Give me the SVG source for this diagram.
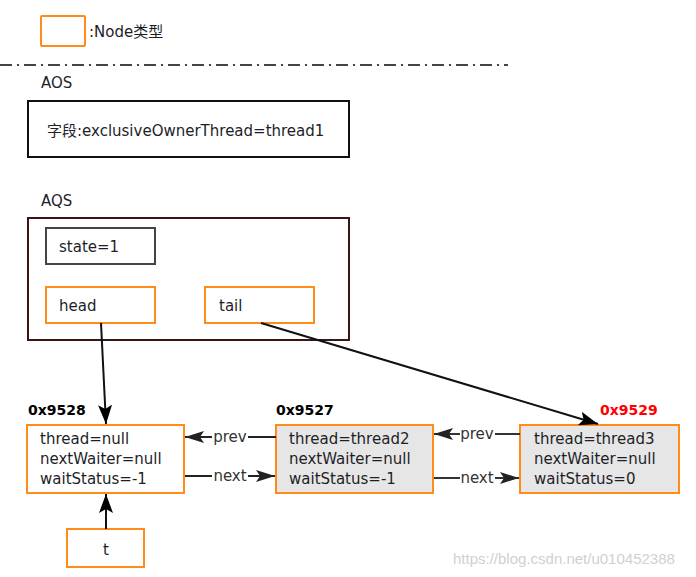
<svg xmlns="http://www.w3.org/2000/svg" width="696" height="577" viewBox="0 0 696 577">
<defs>
<style>
text{font-family:"DejaVu Sans","Noto Sans CJK SC",sans-serif;font-size:15px;fill:#1e1e28;}
.box{fill:#fff;stroke-width:2;}
.orange{stroke:#ff8c1a;}
.gray{fill:#e6e6e6;}
.addr{font-weight:bold;font-size:14px;fill:#000;}
.lbl{font-size:15px;fill:#333;}
.conn{stroke-width:2;fill:none;}
</style>
<marker id="ah" markerUnits="userSpaceOnUse" markerWidth="20" markerHeight="14" viewBox="0 0 20 14" refX="19" refY="7" orient="auto">
<path d="M0,0 L19,7 L0,14 L4,7 z" fill="#000"/>
</marker>
<marker id="ah2" markerUnits="userSpaceOnUse" markerWidth="20" markerHeight="12" viewBox="0 0 20 12" refX="19" refY="6" orient="auto">
<path d="M0,0 L19,6 L0,12 L4,6 z" fill="#222"/>
</marker>
</defs>
<rect width="696" height="577" fill="#fff"/>

<g id="legend">
<rect class="box orange" x="41" y="16" width="44" height="30" rx="1"/>
<text x="89" y="37">:Node类型</text>
</g>
<line x1="0" y1="65" x2="508" y2="65" stroke="#444" stroke-width="2" stroke-dasharray="12 5 2 5"/>

<g id="aos">
<text x="41" y="88">AOS</text>
<rect class="box" x="28" y="101" width="321" height="56" stroke="#111"/>
<text x="47" y="136">字段:exclusiveOwnerThread=thread1</text>
</g>

<g id="aqs">
<text x="41" y="206">AQS</text>
<rect class="box" x="28" y="218" width="321" height="122" stroke="#3a1515"/>
</g>
<g id="state">
<rect class="box" x="46" y="228" width="109" height="36" stroke="#444"/>
<text x="59" y="252">state=1</text>
</g>
<g id="head">
<rect class="box orange" x="46" y="287" width="109" height="36"/>
<text x="59" y="311">head</text>
</g>
<g id="tail">
<rect class="box orange" x="205" y="287" width="109" height="36"/>
<text x="219" y="311">tail</text>
</g>

<g id="node9528">
<text class="addr" x="28" y="415">0x9528</text>
<rect class="box orange" x="27" y="425" width="157" height="68"/>
<text x="40" y="444">thread=null</text>
<text x="40" y="464">nextWaiter=null</text>
<text x="40" y="484">waitStatus=-1</text>
</g>
<g id="node9527">
<text class="addr" x="276" y="415">0x9527</text>
<rect class="box orange gray" x="276" y="425" width="157" height="68"/>
<text x="289" y="444">thread=thread2</text>
<text x="289" y="464">nextWaiter=null</text>
<text x="289" y="484">waitStatus=-1</text>
</g>
<g id="node9529">
<text class="addr" x="600" y="415" style="fill:#ff0000">0x9529</text>
<rect class="box orange gray" x="520" y="425" width="159" height="68"/>
<text x="534" y="444">thread=thread3</text>
<text x="534" y="464">nextWaiter=null</text>
<text x="534" y="484">waitStatus=0</text>
</g>
<g id="t">
<rect class="box orange" x="67" y="529" width="77" height="38"/>
<text x="106" y="555" text-anchor="middle">t</text>
</g>

<g id="connectors">
<line class="conn" x1="101" y1="323" x2="106" y2="424" stroke="#111" marker-end="url(#ah)"/>
<line class="conn" x1="261" y1="323" x2="598" y2="424" stroke="#111" marker-end="url(#ah)"/>
<line class="conn" x1="106" y1="529" x2="106" y2="494" stroke="#111" marker-end="url(#ah)"/>

<line class="conn" x1="276" y1="437" x2="185" y2="437" stroke="#222" marker-end="url(#ah2)"/>
<rect x="212" y="428" width="36" height="18" fill="#fff"/>
<text class="lbl" x="230" y="442" text-anchor="middle">prev</text>

<line class="conn" x1="185" y1="476" x2="275" y2="476" stroke="#222" marker-end="url(#ah2)"/>
<rect x="212" y="467" width="36" height="18" fill="#fff"/>
<text class="lbl" x="230" y="481" text-anchor="middle">next</text>

<line class="conn" x1="520" y1="434" x2="434" y2="434" stroke="#333" marker-end="url(#ah2)"/>
<rect x="460" y="425" width="35" height="18" fill="#fff"/>
<text class="lbl" x="477" y="439" text-anchor="middle">prev</text>

<line class="conn" x1="434" y1="478" x2="519" y2="478" stroke="#333" marker-end="url(#ah2)"/>
<rect x="460" y="469" width="35" height="18" fill="#fff"/>
<text class="lbl" x="477" y="483" text-anchor="middle">next</text>
</g>

<text x="453" y="564" style="font-family:'Liberation Sans',sans-serif;font-size:15px;fill:#d0d0d0">https://blog.csdn.net/u010452388</text>
</svg>
